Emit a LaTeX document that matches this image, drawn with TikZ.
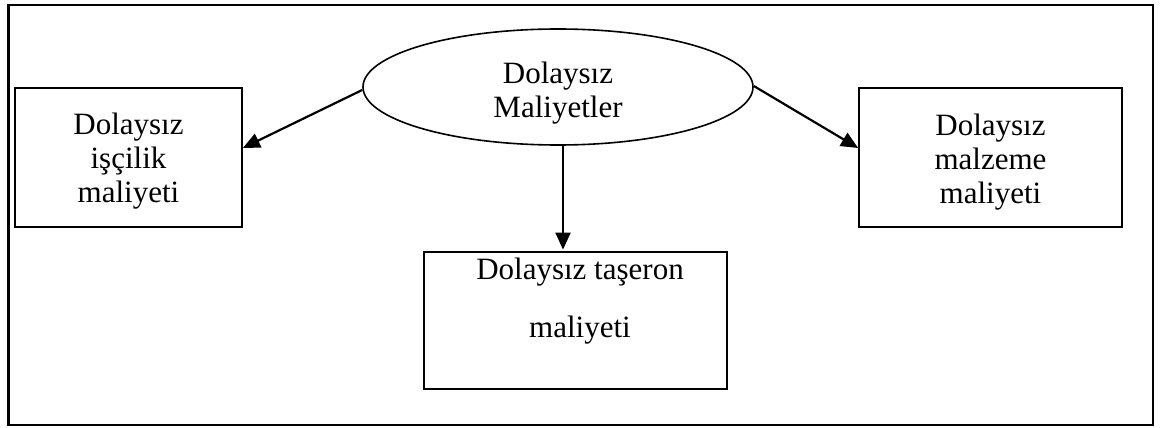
\documentclass[tikz,border=0pt]{standalone}
\usepackage{fontspec}
\setmainfont{Liberation Serif}
\usetikzlibrary{shapes.geometric,arrows.meta}
\begin{document}
\begin{tikzpicture}[x=1pt,y=-1pt,
  box/.style={draw,line width=1.8pt,inner sep=0pt,minimum width=#1,minimum height=139pt},
  lbl/.style={font=\fontsize{31}{34}\selectfont,align=center,inner sep=0pt},
  arr/.style={line width=2.2pt,-{Triangle[length=17pt,width=15pt]}}]
  \useasboundingbox (0,0) rectangle (1165,428);
  % outer frame
  \draw[line width=2.2pt] (8.5,5) rectangle (1153,425);
  % central ellipse
  \node[ellipse,draw,line width=1.6pt,minimum width=390pt,minimum height=116pt,inner sep=0pt] (root) at (558,87) {};
  \node[lbl] (rootT) at (558,93.5) {Dolaysız\\Maliyetler};
  % cost boxes
  \node[box=227pt] (left) at (128.5,157.5) {};
  \node[lbl] (leftT) at (128.5,161.5) {Dolaysız\\işçilik\\maliyeti};
  \node[box=263pt] (right) at (990.5,157.5) {};
  \node[lbl] (rightT) at (990.5,162) {Dolaysız\\malzeme\\maliyeti};
  \node[box=303pt,minimum height=137pt] (base) at (575.5,320.5) {};
  \node[lbl] (baseT) at (580,301.5) {Dolaysız taşeron\\[24pt]maliyeti};
  % connectors
  \draw[arr] ([yshift=-3pt]root.west) -- ([yshift=9.5pt]left.east);
  \draw[arr] ([yshift=1pt]root.east) -- ([yshift=9.5pt]right.west);
  \draw[arr] ([xshift=5pt]root.south) -- ([xshift=-12.5pt,yshift=1.5pt]base.north);
\end{tikzpicture}
\end{document}
